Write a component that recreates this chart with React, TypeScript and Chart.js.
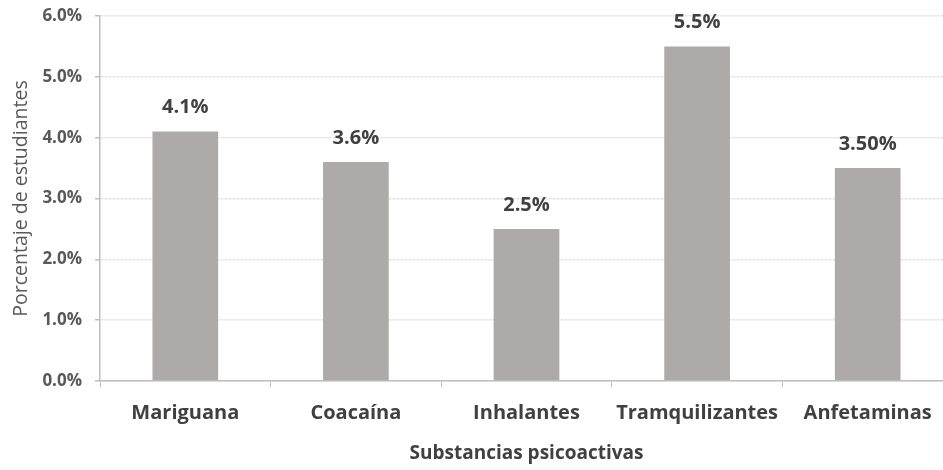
import React, { useEffect, useRef } from "react";
import { Chart, registerables } from "chart.js";

Chart.register(...registerables);

// Substances surveyed and share of students (%) reporting use
const categories = ["Mariguana", "Coacaína", "Inhalantes", "Tramquilizantes", "Anfetaminas"];
const percentages = [4.1, 3.6, 2.5, 5.5, 3.5];
const labelDecimals = [1, 1, 1, 1, 2];
const yTicks = [0, 1, 2, 3, 4, 5, 6];
const yTitle = "Porcentaje de estudiantes";
const xTitle = "Substancias psicoactivas";

const BAR_COLOR = "#AEAAAA";
const AXIS_COLOR = "#BFBFBF";
const GRID_COLOR = "#E4E4E4";
const TEXT_DARK = "#404040";
const TEXT_MID = "#595959";
const FONT = "'Open Sans', 'DejaVu Sans', sans-serif";

// Writes the percentage above each bar and the vertical axis title
const annotations = {
  id: "annotations",
  afterDatasetsDraw(chart: any) {
    const { ctx, chartArea } = chart;
    const meta = chart.getDatasetMeta(0);
    ctx.save();
    ctx.font = `700 20px ${FONT}`;
    ctx.fillStyle = TEXT_DARK;
    ctx.textAlign = "center";
    ctx.textBaseline = "middle";
    meta.data.forEach((bar: any, i: number) => {
      const text = percentages[i].toFixed(labelDecimals[i]) + "%";
      ctx.fillText(text, bar.x, bar.y - 24);
    });
    ctx.restore();

    ctx.save();
    ctx.font = `400 19.5px ${FONT}`;
    ctx.fillStyle = TEXT_MID;
    ctx.textAlign = "center";
    ctx.textBaseline = "alphabetic";
    ctx.translate(27, (chartArea.top + chartArea.bottom) / 2);
    ctx.rotate(-Math.PI / 2);
    ctx.fillText(yTitle, 0, 0);
    ctx.restore();
  },
};

export default function App() {
  const canvasRef = useRef<HTMLCanvasElement>(null);

  useEffect(() => {
    if (!canvasRef.current) return;
    const chart = new Chart(canvasRef.current, {
      type: "bar",
      data: {
        labels: categories,
        datasets: [
          {
            data: percentages,
            backgroundColor: BAR_COLOR,
            borderWidth: 0,
            barPercentage: 0.385,
            categoryPercentage: 1,
          },
        ],
      },
      options: {
        animation: false,
        responsive: false,
        maintainAspectRatio: false,
        layout: { padding: { top: 16, right: 2, left: 0, bottom: 0 } },
        plugins: {
          legend: { display: false },
          tooltip: { enabled: false },
        },
        scales: {
          x: {
            offset: true,
            grid: {
              display: true,
              offset: true,
              drawOnChartArea: false,
              drawTicks: true,
              tickLength: 6,
              tickColor: AXIS_COLOR,
            },
            border: { display: true, color: AXIS_COLOR, width: 1.5 },
            ticks: {
              color: TEXT_DARK,
              font: { family: FONT, size: 20, weight: "700" },
              padding: 14,
              maxRotation: 0,
              autoSkip: false,
            },
            title: {
              display: true,
              text: xTitle,
              color: TEXT_DARK,
              font: { family: FONT, size: 19, weight: "700" },
              padding: { top: 0, bottom: 5 },
            },
            afterFit(scale: any) {
              scale.height = 89;
              scale.paddingLeft = 0;
              scale.paddingRight = 0;
            },
          },
          y: {
            min: 0,
            max: 6,
            afterBuildTicks(scale: any) {
              scale.ticks = yTicks.map((v) => ({ value: v }));
            },
            grid: {
              color: GRID_COLOR,
              lineWidth: 1.5,
              drawTicks: true,
              tickLength: 5,
              tickColor: AXIS_COLOR,
            },
            border: { display: true, color: AXIS_COLOR, width: 1.5, dash: [3, 1] },
            ticks: {
              color: TEXT_MID,
              font: { family: FONT, size: 17, weight: "700" },
              padding: 13,
              callback: (v: any) => Number(v).toFixed(1) + "%",
            },
            afterFit(scale: any) {
              scale.width = 100;
              scale.paddingTop = 0;
              scale.paddingBottom = 0;
            },
          },
        },
      },
      plugins: [annotations],
    });
    return () => chart.destroy();
  }, []);

  return (
    <div
      style={{
        position: "fixed",
        left: 0,
        top: 0,
        width: 943,
        height: 470,
        overflow: "hidden",
        background: "#ffffff",
      }}
    >
      <canvas ref={canvasRef} width={955} height={470} style={{ display: "block" }} />
    </div>
  );
}
